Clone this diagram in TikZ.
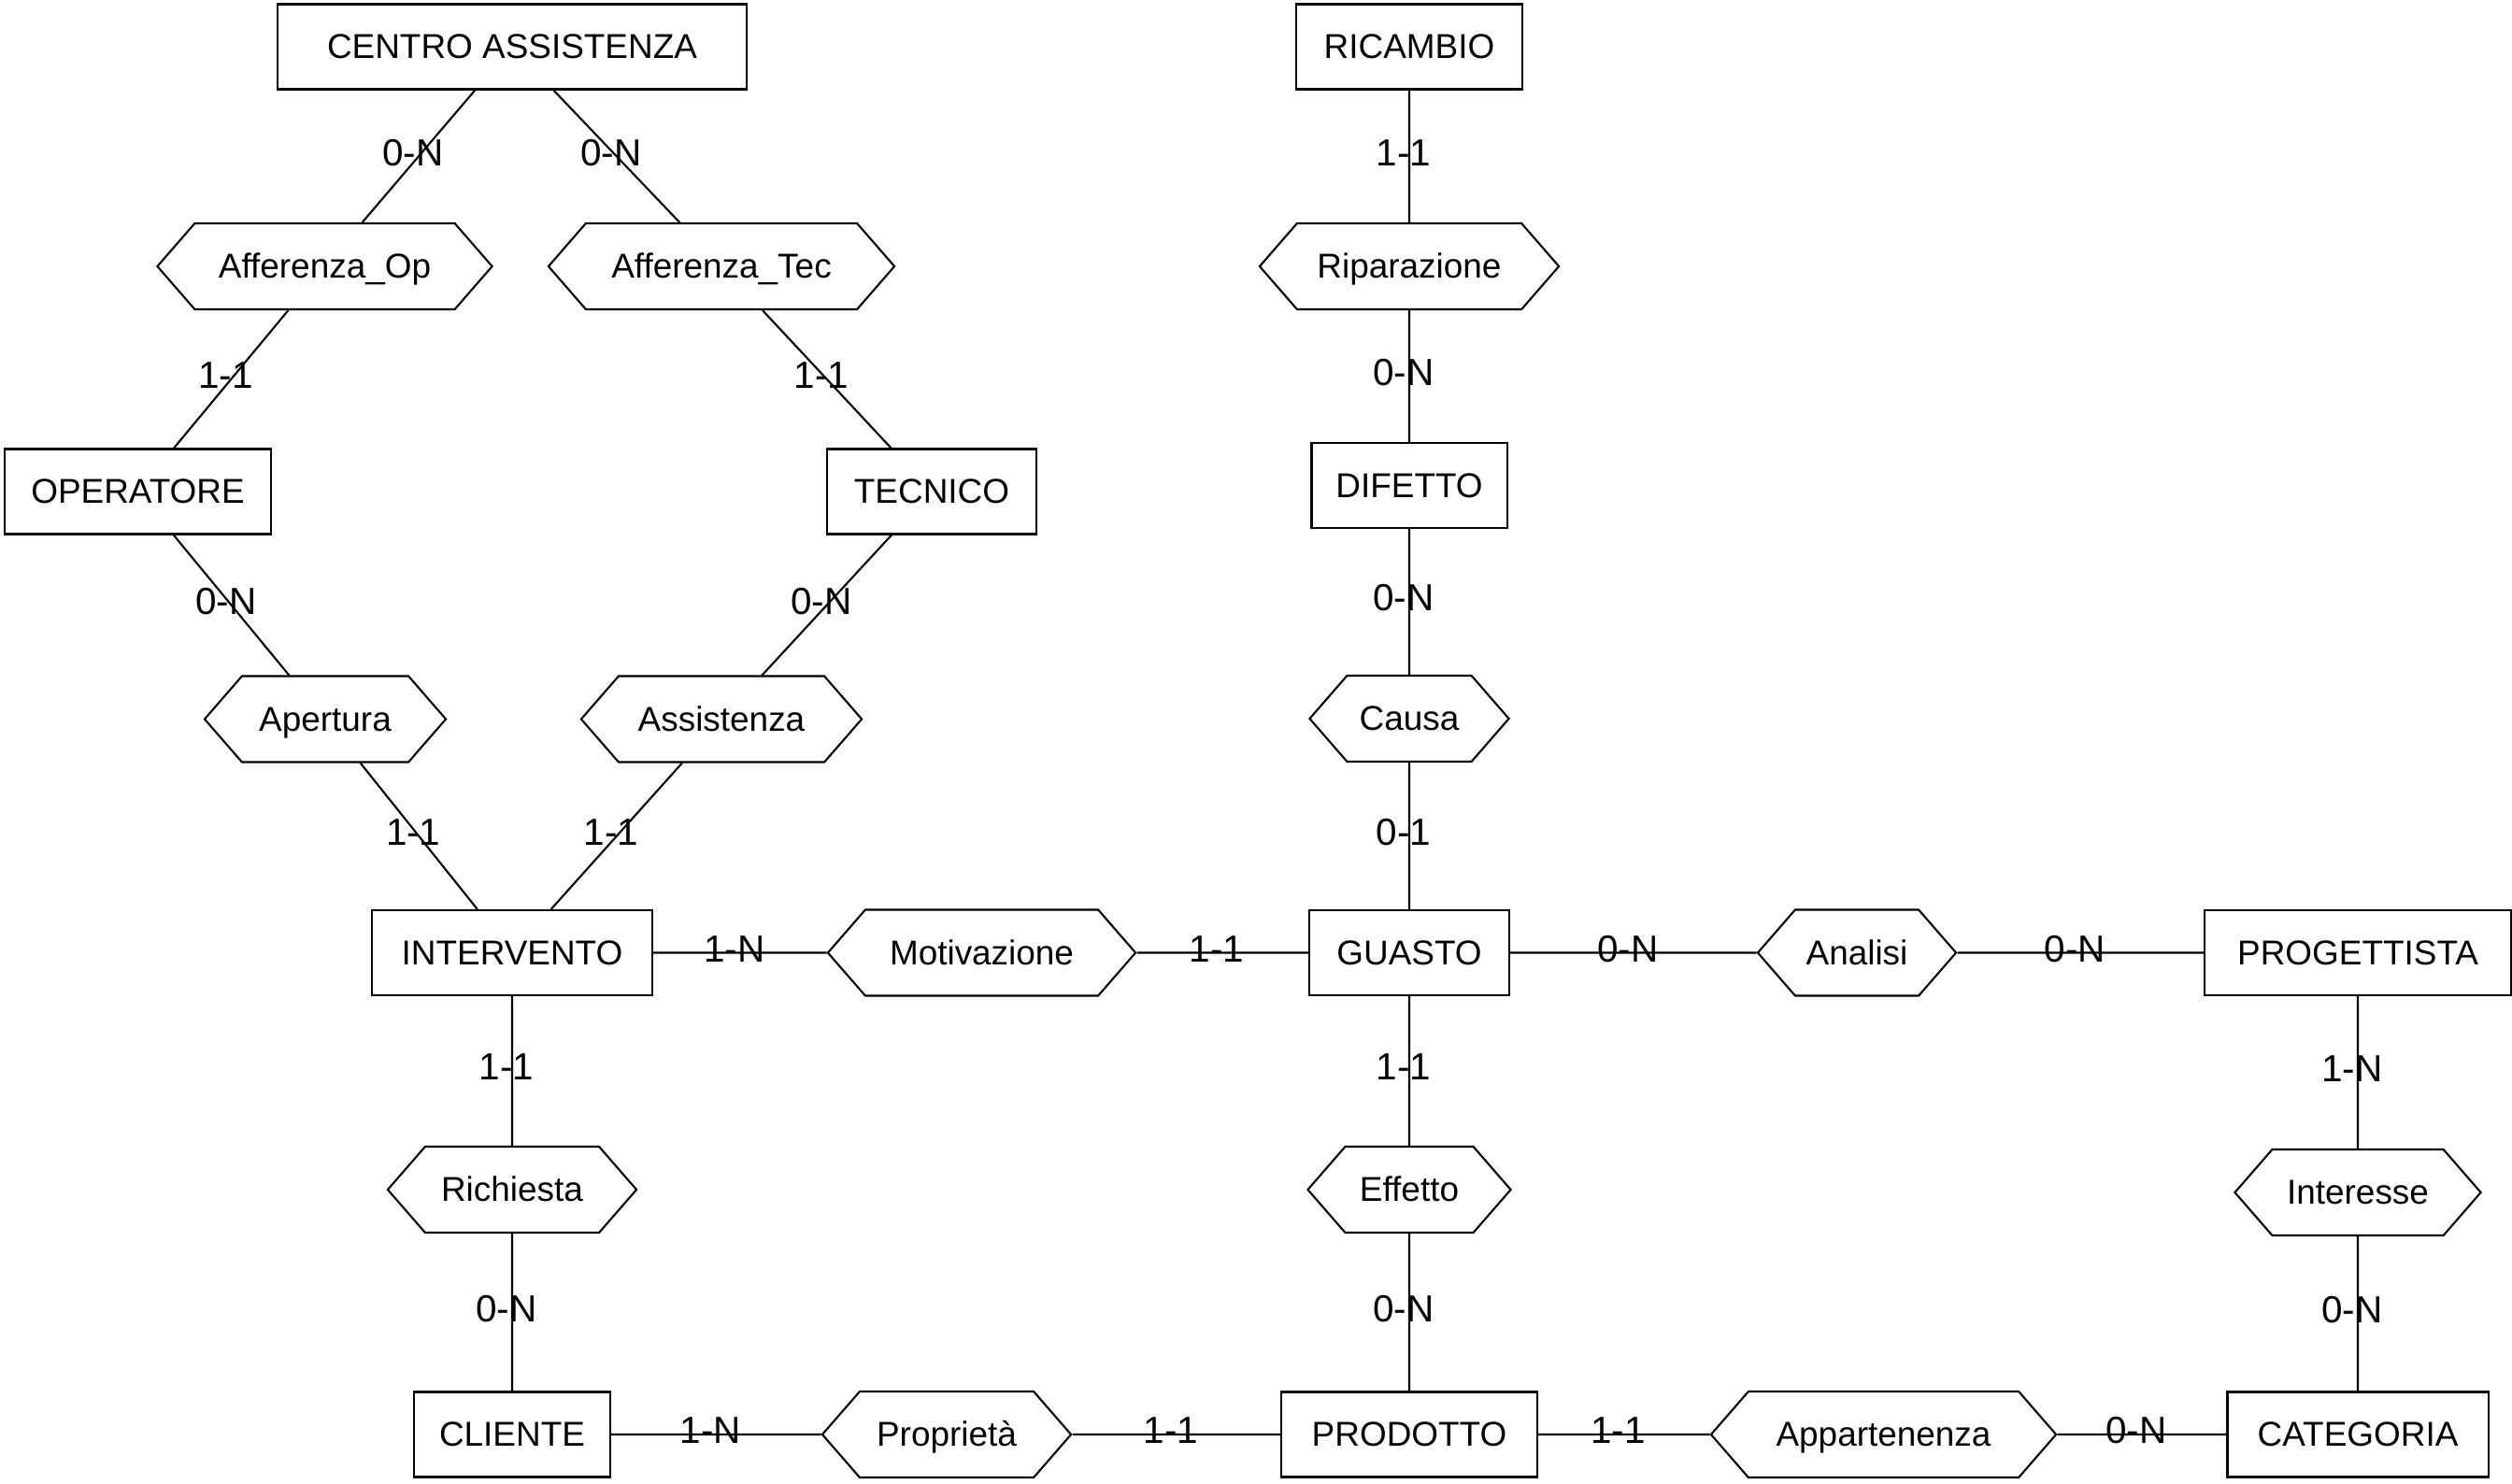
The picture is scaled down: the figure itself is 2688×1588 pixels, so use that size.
\documentclass[tikz,border=0pt]{standalone}
\usepackage{fontspec}
\setmainfont{Liberation Sans}
\usetikzlibrary{shapes.symbols}

\tikzset{
  entity/.style={draw, minimum height=0.91cm, inner sep=0pt, text height=0.72em, text depth=0pt},
  relation/.style={draw, shape=signal, signal to=east and west, signal pointer angle=98,
                   minimum height=0.92cm, inner sep=0pt, text height=0.72em, text depth=0pt},
  card/.style={font=\fontsize{11.5}{13}\selectfont, inner sep=0pt, xshift=-0.06cm, yshift=0.04cm},
}

\begin{document}
\begin{tikzpicture}[x=0.01cm, y=-0.01cm, line width=0.6pt, font=\fontsize{10.5}{12.6}\selectfont]
    \useasboundingbox (0,0) rectangle (2688,1588);

    % entita
    \node[entity, minimum width=5.02cm] (centro) at (548,50) {CENTRO ASSISTENZA};
    \node[entity, minimum width=2.42cm] (ricambio) at (1508,50) {RICAMBIO};
    \node[entity, minimum width=2.85cm] (operatore) at (147.5,526) {OPERATORE};
    \node[entity, minimum width=2.24cm] (tecnico) at (997,526) {TECNICO};
    \node[entity, minimum width=2.09cm] (difetto) at (1508,519.5) {DIFETTO};
    \node[entity, minimum width=3.00cm] (intervento) at (548,1019.5) {INTERVENTO};
    \node[entity, minimum width=2.14cm] (guasto) at (1508,1019.5) {GUASTO};
    \node[entity, minimum width=3.28cm] (progettista) at (2523,1019.5) {PROGETTISTA};
    \node[entity, minimum width=2.10cm] (cliente) at (548,1535) {CLIENTE};
    \node[entity, minimum width=2.73cm] (prodotto) at (1508,1535) {PRODOTTO};
    \node[entity, minimum width=2.79cm] (categoria) at (2523,1535) {CATEGORIA};

    % relazioni
    \node[relation, minimum width=3.58cm] (affop) at (347.5,285) {Afferenza\_Op};
    \node[relation, minimum width=3.70cm] (afftec) at (772,285) {Afferenza\_Tec};
    \node[relation, minimum width=3.20cm] (riparazione) at (1508,285) {Riparazione};
    \node[relation, minimum width=2.58cm] (apertura) at (348,769.5) {Apertura};
    \node[relation, minimum width=3.00cm] (assistenza) at (772,769.5) {Assistenza};
    \node[relation, minimum width=2.13cm] (causa) at (1508,769) {Causa};
    \node[relation, minimum width=3.29cm] (motivazione) at (1050.5,1019.5) {Motivazione};
    \node[relation, minimum width=2.12cm] (analisi) at (1987,1019.5) {Analisi};
    \node[relation, minimum width=2.66cm] (richiesta) at (548,1273) {Richiesta};
    \node[relation, minimum width=2.17cm] (effetto) at (1508,1273) {Effetto};
    \node[relation, minimum width=2.63cm] (interesse) at (2523,1276) {Interesse};
    \node[relation, minimum width=2.66cm] (proprieta) at (1013,1535) {Proprietà};
    \node[relation, minimum width=3.69cm] (appartenenza) at (2015.5,1535) {Appartenenza};

    % collegamenti
    \draw (centro) -- node[card] {0-N} (affop);
    \draw (centro) -- node[card] {0-N} (afftec);
    \draw (affop) -- node[card] {1-1} (operatore);
    \draw (afftec) -- node[card] {1-1} (tecnico);
    \draw (operatore) -- node[card] {0-N} (apertura);
    \draw (tecnico) -- node[card] {0-N} (assistenza);
    \draw (apertura) -- node[card] {1-1} (intervento);
    \draw (assistenza) -- node[card] {1-1} (intervento);
    \draw (intervento) -- node[card] {1-N} (motivazione);
    \draw (motivazione) -- node[card] {1-1} (guasto);
    \draw (ricambio) -- node[card] {1-1} (riparazione);
    \draw (riparazione) -- node[card] {0-N} (difetto);
    \draw (difetto) -- node[card] {0-N} (causa);
    \draw (causa) -- node[card] {0-1} (guasto);
    \draw (guasto) -- node[card] {0-N} (analisi);
    \draw (analisi) -- node[card] {0-N} (progettista);
    \draw (guasto) -- node[card] {1-1} (effetto);
    \draw (effetto) -- node[card] {0-N} (prodotto);
    \draw (intervento) -- node[card] {1-1} (richiesta);
    \draw (richiesta) -- node[card] {0-N} (cliente);
    \draw (cliente) -- node[card] {1-N} (proprieta);
    \draw (proprieta) -- node[card] {1-1} (prodotto);
    \draw (prodotto) -- node[card] {1-1} (appartenenza);
    \draw (appartenenza) -- node[card] {0-N} (categoria);
    \draw (progettista) -- node[card] {1-N} (interesse);
    \draw (interesse) -- node[card] {0-N} (categoria);
\end{tikzpicture}
\end{document}
